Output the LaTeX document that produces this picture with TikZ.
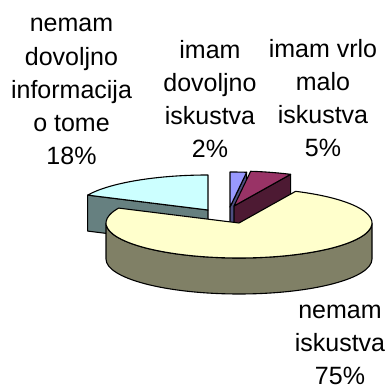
\documentclass[tikz,border=0pt]{standalone}
\usepackage{fontspec}
\setmainfont{Liberation Sans}
\usetikzlibrary{calc}
\definecolor{ytop}{HTML}{FFFFCC}
\definecolor{yside}{HTML}{808066}
\definecolor{ctop}{HTML}{CCFFFF}
\definecolor{cside}{HTML}{668080}
\definecolor{btop}{HTML}{9999FF}
\definecolor{bside}{HTML}{4D4D80}
\definecolor{mtop}{HTML}{993366}
\definecolor{mside}{HTML}{4D1A33}
\begin{document}
\begin{tikzpicture}[x=1pt,y=1pt,
  edge/.style={draw=black,line width=1.1pt,line join=round},
  lbl/.style={align=center,font=\fontsize{25}{33.3}\selectfont,inner sep=0pt,anchor=base},
  er/.style={x radius=133pt,y radius=35pt}]
\useasboundingbox (0,0) rectangle (392,390);
% cyan slice 18%
\coordinate (cc) at (208,180);
\coordinate (cp) at ($(cc)+(154.8:133pt and 35pt)$);
\filldraw[edge,fill=cside] (cc) -- (cp) -- ++(0,-36) -- ($(cc)+(0,-36)$) -- cycle;
\filldraw[edge,fill=ctop] (cc) -- (cp) arc[start angle=154.8,end angle=90,er] -- cycle;
% blue slice 2%
\coordinate (bc) at (230,183);
\coordinate (bp) at ($(bc)+(82.8:133pt and 35pt)$);
\filldraw[edge,fill=bside] (bc) -- (bp) -- ++(0,-36) -- ($(bc)+(0,-36)$) -- cycle;
\filldraw[edge,fill=btop] (bc) -- ($(bc)+(0,35)$) arc[start angle=90,end angle=82.8,er] -- cycle;
% maroon slice 5%
\coordinate (mc) at (234,184);
\coordinate (mp) at ($(mc)+(64.8:133pt and 35pt)$);
\filldraw[edge,fill=mside] (mc) -- (mp) -- ++(0,-36) -- ($(mc)+(0,-36)$) -- cycle;
\filldraw[edge,fill=mtop] (mc) -- ($(mc)+(82.8:133pt and 35pt)$) arc[start angle=82.8,end angle=64.8,er] -- cycle;
% yellow slice 75%
\coordinate (yc) at (239,167);
\filldraw[edge,fill=yside] ($(yc)+(133,0)$) arc[start angle=0,end angle=-180,er] -- ++(0,-36) arc[start angle=180,end angle=360,er] -- cycle;
\filldraw[edge,fill=ytop] (yc) -- ($(yc)+(64.8:133pt and 35pt)$) arc[start angle=64.8,end angle=-205.2,er] -- cycle;
% labels (anchor at baseline of last line)
\node[lbl] (l18) at (71.5,225) {nemam\\dovoljno\\informacija\\o tome\\18\%};
\node[lbl] (l2) at (210,232) {imam\\dovoljno\\iskustva\\2\%};
\node[lbl] (l5) at (323,233) {imam vrlo\\malo\\iskustva\\5\%};
\node[lbl] (l75) at (340,5) {nemam\\iskustva\\75\%};
\end{tikzpicture}
\end{document}
